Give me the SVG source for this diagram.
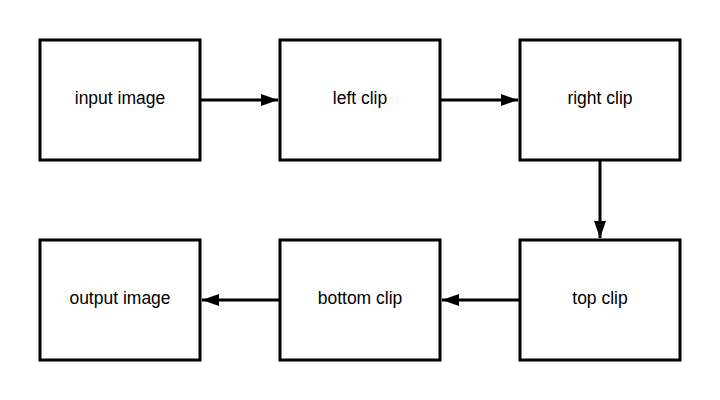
<svg xmlns="http://www.w3.org/2000/svg" width="720" height="400" viewBox="0 0 720 400">
<style>
.box{fill:#fff;stroke:#000;stroke-width:3}
.lbl{font-family:"Liberation Sans",Arial,sans-serif;font-size:17.5px;fill:#000;text-anchor:middle;dominant-baseline:central}
.con{stroke:#000;stroke-width:3;fill:none;marker-end:url(#ah)}
</style>
<defs>
<marker id="ah" markerUnits="userSpaceOnUse" markerWidth="18" markerHeight="14" refX="17" refY="7" orient="auto">
<path d="M0,1 L17,7 L0,13 Z" fill="#000"/>
</marker>
</defs>
<rect width="720" height="400" fill="#fff"/>
<g id="connectors">
<path class="con" d="M200,100 L278,100"/>
<path class="con" d="M440,100 L518,100"/>
<path class="con" d="M600,160 L600,238"/>
<path class="con" d="M520,300 L442,300"/>
<path class="con" d="M280,300 L202,300"/>
</g>
<g id="input-image"><rect class="box" x="40" y="40" width="160" height="120"/><text class="lbl" x="120" y="98">input image</text></g>
<g id="left-clip"><rect class="box" x="280" y="40" width="160" height="120"/><text class="lbl" x="360" y="98">left clip</text></g>
<g id="right-clip"><rect class="box" x="520" y="40" width="160" height="120"/><text class="lbl" x="600" y="98">right clip</text></g>
<g id="top-clip"><rect class="box" x="520" y="240" width="160" height="120"/><text class="lbl" x="600" y="298">top clip</text></g>
<g id="bottom-clip"><rect class="box" x="280" y="240" width="160" height="120"/><text class="lbl" x="360" y="298">bottom clip</text></g>
<g id="output-image"><rect class="box" x="40" y="240" width="160" height="120"/><text class="lbl" x="120" y="298">output image</text></g>
</svg>
